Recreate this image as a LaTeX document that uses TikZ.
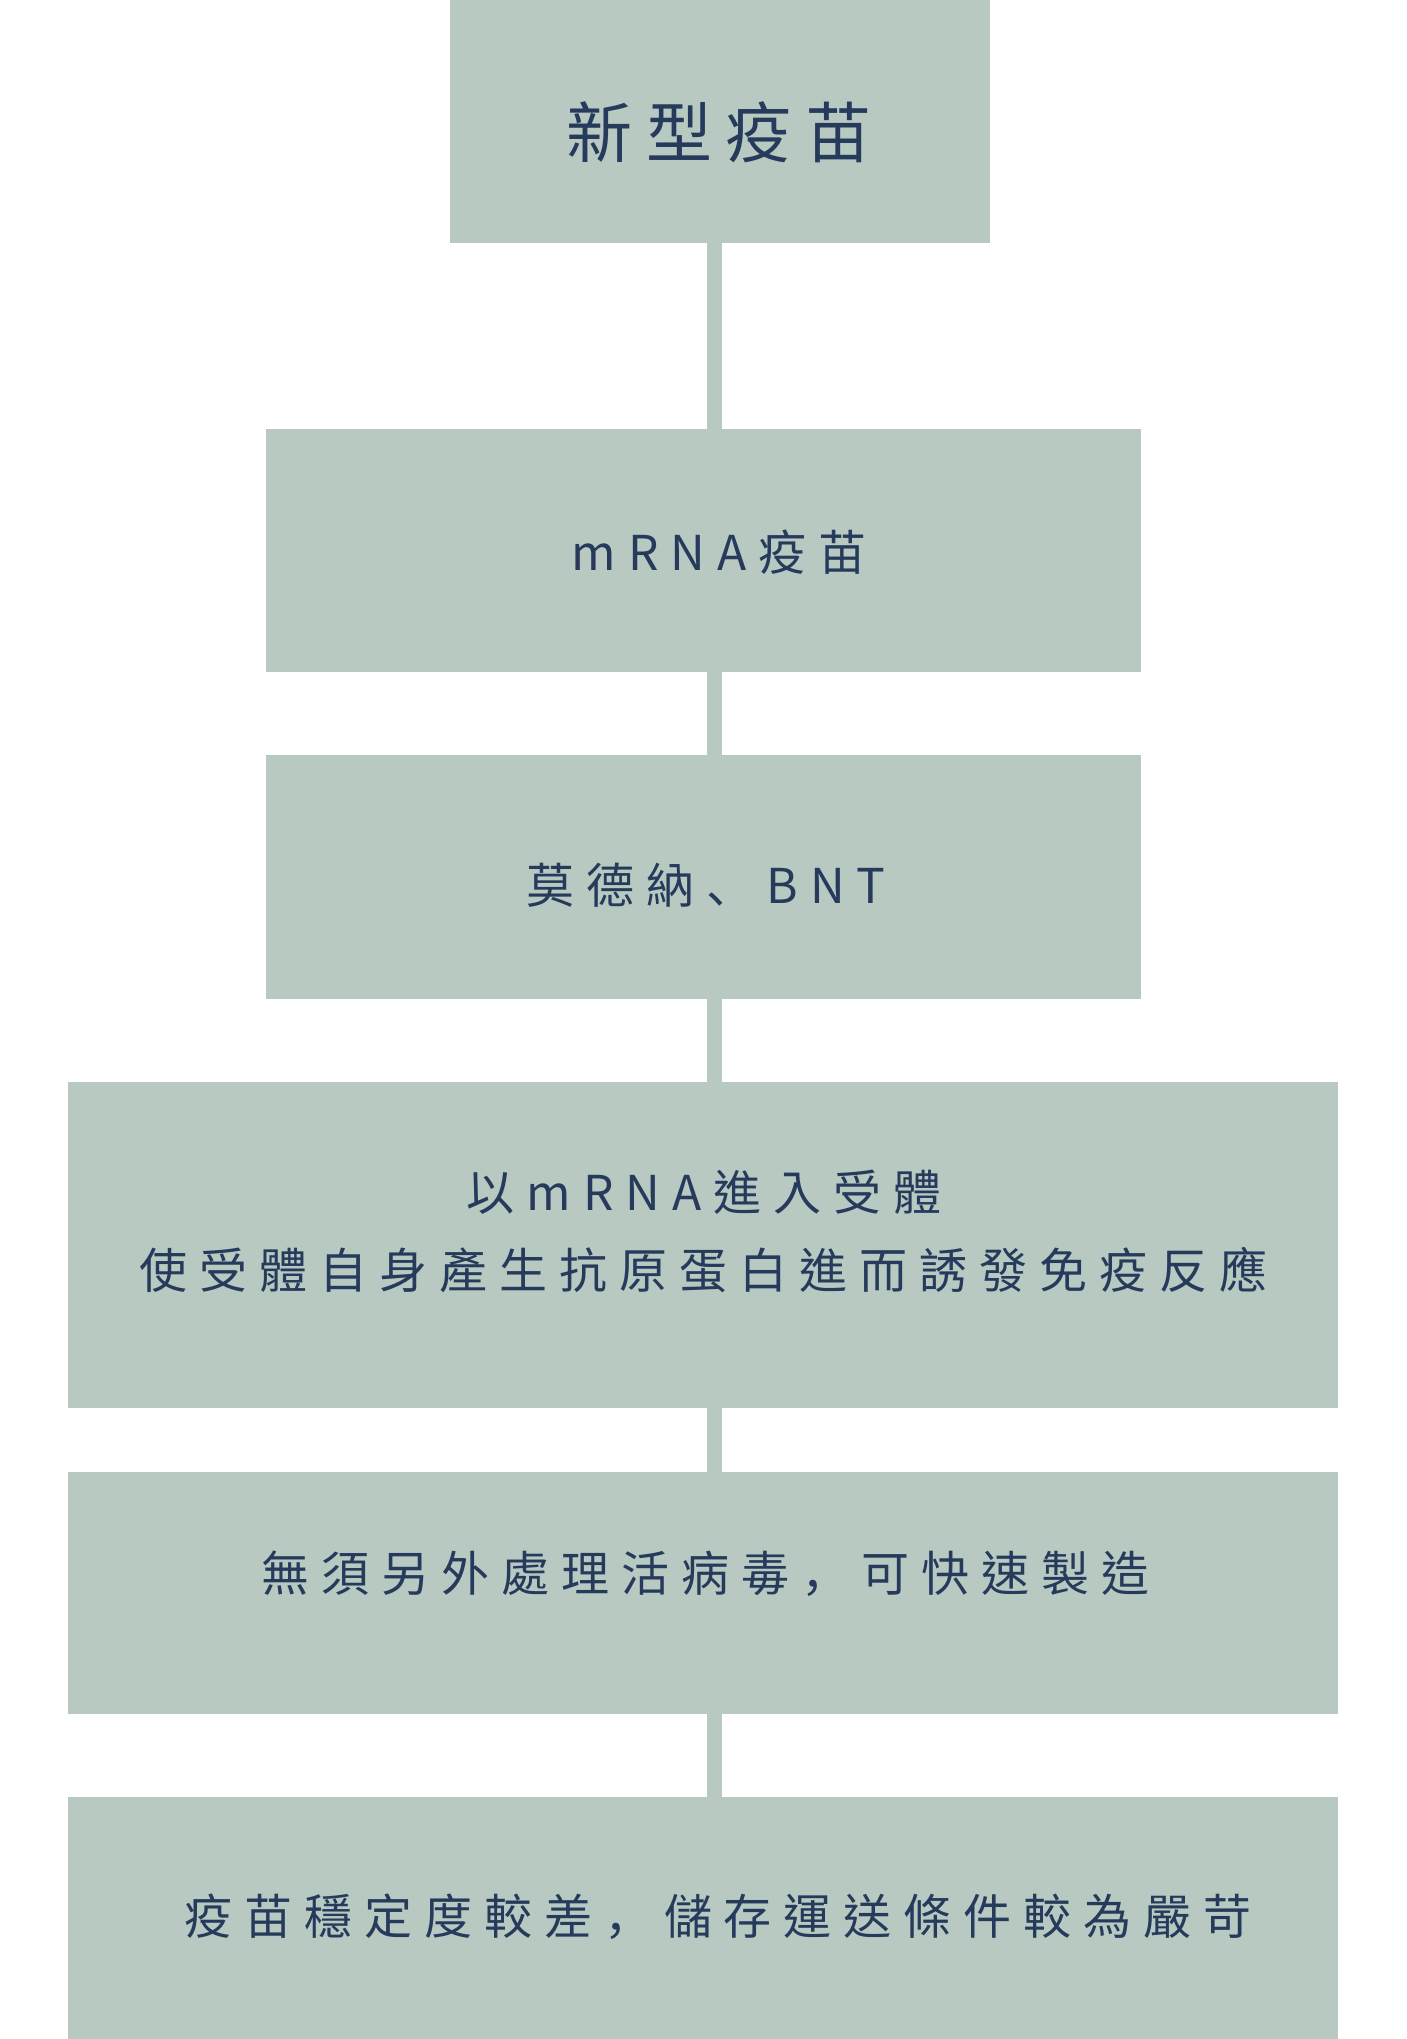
\documentclass[tikz,border=0pt]{standalone}
\usepackage{fontspec}
\setmainfont{Noto Sans CJK TC}
\newfontfamily\bodyfont[LetterSpace=25]{Noto Sans CJK TC}
\newfontfamily\titlefont[LetterSpace=21]{Noto Sans CJK TC}
\newfontfamily\punctfont{Noto Sans CJK SC}
\newcommand{\pc}[1]{\hspace{0.25em}{\punctfont #1}\hspace{0.25em}}
\definecolor{boxfill}{HTML}{B8C9C1}
\definecolor{ink}{HTML}{263B5C}
\tikzset{
  card/.style={fill=boxfill, draw=none, inner sep=0pt, anchor=north west},
  conn/.style={draw=boxfill, line width=15pt},
  txt/.style={text=ink, inner sep=0pt, anchor=center, font=\bodyfont\fontsize{48pt}{56pt}\selectfont},
  ttl/.style={text=ink, inner sep=0pt, anchor=center, font=\titlefont\fontsize{66pt}{76pt}\selectfont},
}
\begin{document}
\begin{tikzpicture}[x=1pt,y=-1pt]
\useasboundingbox (0,0) rectangle (1407,2039);
\coordinate (axis) at (714,0);
\node[card, minimum width=540.5pt, minimum height=242.5pt] (b1) at (449.5,0) {};
\node[card, minimum width=875pt, minimum height=243.5pt] (b2) at (266,428.5) {};
\node[card, minimum width=875pt, minimum height=244pt] (b3) at (266,755) {};
\node[card, minimum width=1270.5pt, minimum height=325.5pt] (b4) at (67.5,1082) {};
\node[card, minimum width=1270.5pt, minimum height=241.5pt] (b5) at (67.5,1472) {};
\node[card, minimum width=1270.5pt, minimum height=242pt] (b6) at (67.5,1797) {};
\draw[conn] (b1.south -| axis) -- (b2.north -| axis);
\draw[conn] (b2.south -| axis) -- (b3.north -| axis);
\draw[conn] (b3.south -| axis) -- (b4.north -| axis);
\draw[conn] (b4.south -| axis) -- (b5.north -| axis);
\draw[conn] (b5.south -| axis) -- (b6.north -| axis);
% texts
\node[ttl] (t1) at (719,132) {新型疫苗};
\node[txt] (t2) at (719,552) {mRNA疫苗};
\node[txt] (t3) at (706,885) {莫德納\pc{、}BNT};
\node[txt] (t4a) at (704,1192) {以mRNA進入受體};
\node[txt] (t4b) at (703,1270) {使受體自身產生抗原蛋白進而誘發免疫反應};
\node[txt] (t5) at (705,1574) {無須另外處理活病毒\pc{，}可快速製造};
\node[txt] (t6) at (718,1917) {疫苗穩定度較差\pc{，}儲存運送條件較為嚴苛};
\end{tikzpicture}
\end{document}
